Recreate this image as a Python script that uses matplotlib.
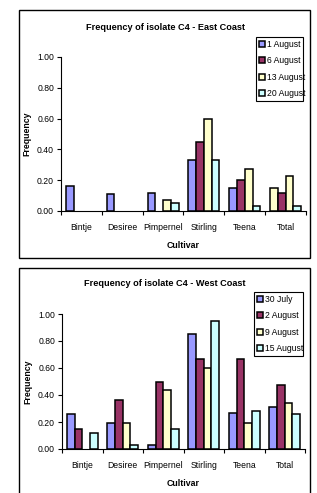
import matplotlib.pyplot as plt
from matplotlib.patches import Rectangle
import numpy as np

plt.rcParams['font.family'] = ['Liberation Sans', 'DejaVu Sans']

cultivars = ['Bintje', 'Desiree', 'Pimpernel', 'Stirling', 'Teena', 'Total']

east_dates = ['1 August', '6 August', '13 August', '20 August']
east_1aug = [0.16, 0.11, 0.12, 0.33, 0.15, 0.15]
east_6aug = [0.0, 0.0, 0.0, 0.45, 0.20, 0.12]
east_13aug = [0.0, 0.0, 0.07, 0.60, 0.27, 0.23]
east_20aug = [0.0, 0.0, 0.055, 0.33, 0.035, 0.03]

west_dates = ['30 July', '2 August', '9 August', '15 August']
west_30jul = [0.26, 0.195, 0.03, 0.85, 0.27, 0.31]
west_2aug = [0.145, 0.36, 0.50, 0.665, 0.665, 0.475]
west_9aug = [0.0, 0.19, 0.435, 0.60, 0.19, 0.34]
west_15aug = [0.115, 0.03, 0.145, 0.95, 0.285, 0.26]

colors = ['#9999FF', '#993366', '#FFFFCC', '#CCFFFF']

W, H = 317, 493
fig = plt.figure(figsize=(W / 100, H / 100), dpi=100)


def px_axes(x0, x1, ytop, ybot):
    return fig.add_axes([x0 / W, 1 - ybot / H, (x1 - x0) / W, (ybot - ytop) / H])


def draw(ax, series, dates, title, leg_box, title_y, override=None):
    x = np.arange(len(cultivars))
    bw = 0.19
    handles = []
    for i, vals in enumerate(series):
        cols = [colors[i]] * len(vals)
        if override and i in override:
            for j, c in override[i].items():
                cols[j] = c
        bars = ax.bar(x + (i - 1.5) * bw, vals, bw, color=cols,
                      edgecolor='black', linewidth=1.1, zorder=3)
        for b in bars:
            if b.get_height() == 0:
                b.set_visible(False)
        handles.append(Rectangle((0, 0), 1, 1, facecolor=colors[i],
                                 edgecolor='black', linewidth=1.1))
    ax.set_xlim(-0.5, len(cultivars) - 0.5)
    ax.set_ylim(0, 1)
    ax.set_yticks(np.arange(0, 1.01, 0.2))
    ax.set_yticklabels(['%.2f' % v for v in np.arange(0, 1.01, 0.2)], fontsize=6.2)
    ax.set_xticks(np.arange(-0.5, len(cultivars)), minor=False)
    ax.set_xticklabels([])
    ax.set_xticks(x, minor=True)
    ax.set_xticklabels(cultivars, minor=True, fontsize=6.2)
    ax.tick_params(axis='x', which='minor', length=0, pad=9)
    ax.tick_params(axis='x', which='major', length=3, width=0.8)
    ax.tick_params(axis='y', length=3, width=0.8, pad=2)
    for s in ['top', 'right']:
        ax.spines[s].set_visible(False)
    for s in ['left', 'bottom']:
        ax.spines[s].set_linewidth(0.8)
    ax.set_xlabel('Cultivar', fontsize=6.3, fontweight='bold', labelpad=6)
    ax.set_ylabel('Frequency', fontsize=6.3, fontweight='bold', labelpad=4)
    fig.text(165 / W, 1 - title_y / H, title, fontsize=6.6, fontweight='bold',
             ha='center', va='center')
    lx0, lx1, ly0, ly1 = leg_box
    leg = fig.legend(handles, dates, loc='upper left',
                     bbox_to_anchor=(lx0 / W, 1 - ly1 / H, (lx1 - lx0) / W, (ly1 - ly0) / H),
                     mode='expand', fontsize=6.2, handlelength=0.7, handleheight=0.7,
                     handletextpad=0.2, borderpad=0.35, labelspacing=0.85,
                     borderaxespad=0, fancybox=False, framealpha=1)
    leg.get_frame().set_edgecolor('black')
    leg.get_frame().set_linewidth(0.8)


ax1 = px_axes(61, 306, 57, 211)
draw(ax1, [east_1aug, east_6aug, east_13aug, east_20aug], east_dates,
     'Frequency of isolate C4 - East Coast', (256, 303, 37, 97), 27,
     override={0: {5: '#FFFFCC'}})

ax2 = px_axes(62, 305, 314, 449)
draw(ax2, [west_30jul, west_2aug, west_9aug, west_15aug], west_dates,
     'Frequency of isolate C4 - West Coast', (254, 303, 292, 355), 283)

# chart frames
fig.patches.append(Rectangle((19 / W, 1 - 258 / H), 291 / W, 248 / H, transform=fig.transFigure,
                             fill=False, edgecolor='black', linewidth=1.0))
fig.patches.append(Rectangle((19 / W, 1 - 500 / H), 291 / W, 232 / H, transform=fig.transFigure,
                             fill=False, edgecolor='black', linewidth=1.0))

fig.savefig('out.png', dpi=100)
